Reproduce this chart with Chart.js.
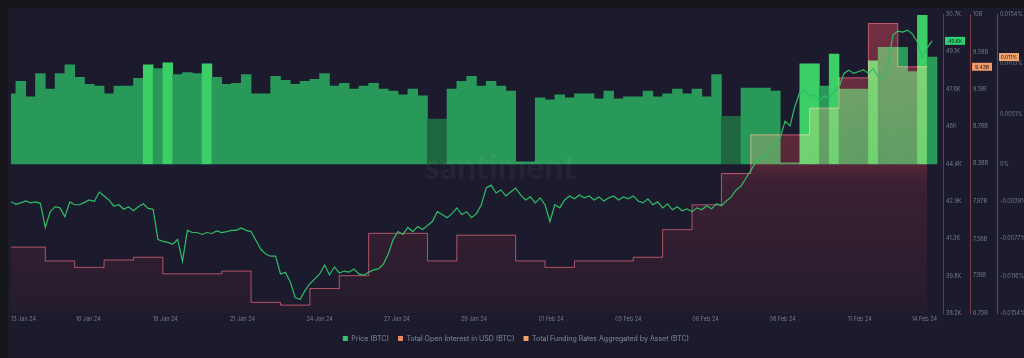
<!DOCTYPE html>
<html>
<head>
<meta charset="utf-8">
<script src="https://cdn.jsdelivr.net/npm/chart.js@4.4.1/dist/chart.umd.min.js"></script>
<style>
  html, body { margin: 0; padding: 0; background: #141419; overflow: hidden; }
  #wrap { position: absolute; left: 8px; top: 8px; width: 1016px; height: 350px; background: #1b1b2d; }
</style>
</head>
<body>
<div id="wrap"><canvas id="grafico"></canvas></div>
<script>
// horas desde el inicio del gráfico (12 Jan 20:00)
const tickHours = [0, 63, 126, 189, 252, 315, 378, 441, 504, 567, 630, 693, 756];
const tickLabels = ['13 Jan 24', '16 Jan 24', '19 Jan 24', '21 Jan 24', '24 Jan 24', '27 Jan 24', '29 Jan 24',
  '01 Feb 24', '03 Feb 24', '06 Feb 24', '08 Feb 24', '11 Feb 24', '14 Feb 24'];

// precio BTC en miles de USD, cada 4 horas
const priceValues = [
  42.87, 42.76, 42.82, 42.90, 42.82, 42.86, 42.80, 41.79, 42.45, 42.66, 42.61, 42.24,
  42.86, 42.74, 42.74, 42.84, 42.94, 42.88, 43.27, 43.11, 42.94, 42.68, 42.74, 42.55,
  42.66, 42.49, 42.66, 42.78, 42.59, 42.55, 41.29, 41.21, 41.17, 41.09, 41.29, 40.39,
  41.67, 41.58, 41.58, 41.50, 41.58, 41.54, 41.65, 41.58, 41.62, 41.67, 41.67, 41.77,
  41.67, 41.62, 41.25, 40.88, 40.68, 40.59, 40.59, 39.85, 39.91, 39.52, 38.86, 38.78,
  39.15, 39.44, 39.64, 39.85, 40.22, 39.81, 40.14, 39.89, 39.97, 39.93, 40.06, 39.85,
  39.79, 39.92, 40.02, 40.06,
  40.26, 40.68, 41.29, 41.62, 41.50, 41.79, 41.62, 41.83, 41.71, 41.87, 42.04, 42.45,
  42.33, 42.20, 42.37, 42.61, 42.33, 42.45, 42.20, 42.37, 42.74, 43.44, 43.56, 43.23,
  43.36, 43.11, 43.27, 43.44, 43.15, 42.94, 43.07, 42.82, 43.03, 42.74, 42.04, 42.74,
  42.61, 42.94, 43.11, 42.99, 43.15, 43.03, 43.11, 42.94, 43.07, 42.90, 43.03, 43.11,
  42.94, 43.07, 42.99, 43.11, 42.90, 42.82, 42.99, 42.74, 42.86, 42.61, 42.78, 42.53,
  42.66, 42.49, 42.57, 42.45, 42.61, 42.53, 42.70, 42.57, 42.78, 42.70, 42.90, 43.07,
  43.36, 43.52, 43.85, 44.18, 44.51, 44.68, 44.76, 45.09, 45.30, 45.54, 46.24, 46.04,
  46.86, 47.44, 47.52, 47.28, 47.32, 47.11, 47.28, 47.19, 47.48, 47.65, 48.23, 48.36,
  48.23, 48.31, 48.39, 48.23, 48.43, 48.10, 47.98, 48.64, 49.83, 50.00, 49.96, 50.04,
  49.87, 49.54, 48.88, 49.30, 49.59
];

// open interest en miles de millones USD, un valor por día
const openInterestValues = [
  7.47, 7.47, 7.32, 7.25, 7.33, 7.36, 7.18, 7.18, 7.21, 6.87, 6.84, 7.02, 7.16,
  7.62, 7.62, 7.32, 7.60, 7.60, 7.32, 7.25, 7.32, 7.32, 7.36, 7.66, 7.93, 8.27,
  8.69, 8.69, 8.98, 9.31, 9.90, 9.43, 9.43
];

// funding rate en %, cada 8 horas
const fundingValues = [
  0.0072, 0.0085, 0.0069, 0.0093, 0.0077, 0.0093, 0.0102, 0.0089, 0.0082, 0.0080,
  0.0072, 0.0080, 0.0080, 0.0088, 0.0102, 0.0098, 0.0104, 0.0092, 0.0094, 0.0093,
  0.0103, 0.0089, 0.0082, 0.0083, 0.0092, 0.0072, 0.0072, 0.0090, 0.0086, 0.0082,
  0.0085, 0.0087, 0.0093, 0.0080, 0.0083, 0.0077, 0.0080, 0.0083, 0.0077, 0.0075,
  0.0071, 0.0077, 0.0070, 0.0046, 0.0046, 0.0077, 0.0085, 0.0090, 0.0080, 0.0085,
  0.0080, 0.0075, 0.0002, 0.0002, 0.0068, 0.0066, 0.0071, 0.0068, 0.0072, 0.0072,
  0.0067, 0.0075, 0.0067, 0.0069, 0.0069, 0.0075, 0.0069, 0.0072, 0.0077, 0.0072,
  0.0077, 0.0069, 0.0092, 0.0049, 0.0049, 0.0078, 0.0078, 0.0078, 0.0075, 0.0001,
  0.0001, 0.0103, 0.0103, 0.0080, 0.0113, 0.0077, 0.0077, 0.0077, 0.0106, 0.0120,
  0.0120, 0.0120, 0.0095, 0.0153, 0.0110
];

const priceTicks = [38.2, 39.76, 41.33, 42.89, 44.45, 46.01, 47.58, 49.14, 50.7];
const priceTickLabels = ['38.2K', '39.8K', '41.3K', '42.9K', '44.4K', '46K', '47.6K', '49.1K', '50.7K'];
const oiTicks = [6.75, 7.16, 7.56, 7.97, 8.38, 8.78, 9.19, 9.59, 10];
const oiTickLabels = ['6.75B', '7.16B', '7.56B', '7.97B', '8.38B', '8.78B', '9.19B', '9.59B', '10B'];
const frTicks = [-0.0154, -0.0116, -0.0077, -0.0039, 0, 0.0051, 0.0103, 0.0154];
const frTickLabels = ['-0.0154%', '-0.0116%', '-0.0077%', '-0.0039%', '0%', '0.0051%', '0.0103%', '0.0154%'];

const seriesNames = ['Price (BTC)', 'Total Open Interest in USD (BTC)', 'Total Funding Rates Aggregated by Asset (BTC)'];

// estilos
const legendColors = ['#35c46f', '#e8875f', '#f0a468'];
const brightBars = [14, 16, 20, 81, 82, 84, 88, 93];
const dimBars = [43, 44, 73, 74];

Chart.defaults.font.family = 'Inter, Roboto, sans-serif';
Chart.defaults.color = '#7b7f92';

function colorBarra(ctx) {
  if (brightBars.includes(ctx.dataIndex)) return '#3ccf68';
  if (dimBars.includes(ctx.dataIndex)) return '#1f6640';
  return '#29995a';
}

function rellenoOI(ctx) {
  const area = ctx.chart.chartArea;
  if (!area) return 'transparent';
  const g = ctx.chart.ctx.createLinearGradient(0, area.top, 0, area.bottom);
  g.addColorStop(0, 'rgb(100,24,28)');
  g.addColorStop(0.5, 'rgb(66,13,15)');
  g.addColorStop(0.56, 'rgb(36,6,6)');
  g.addColorStop(1, 'rgb(10,1,0)');
  return g;
}

function fijarTicks(valores) {
  return scale => { scale.ticks = valores.map(v => ({ value: v })); };
}

const capas = {
  id: 'capas',
  beforeDraw(chart) {
    // fondo pintado en el canvas para que el modo "screen" tenga algo debajo
    const ctx = chart.ctx;
    ctx.save();
    ctx.fillStyle = '#1b1b2d';
    ctx.fillRect(0, 0, chart.width, chart.height);
    ctx.restore();
  },
  afterDatasetDraw(chart, args) {
    // el relleno del open interest se mezcla en modo "screen" sobre las barras
    if (args.index === 2) chart.ctx.globalCompositeOperation = 'screen';
    if (args.index === 1) chart.ctx.globalCompositeOperation = 'source-over';
  },
  afterDatasetsDraw(chart) {
    const { ctx, chartArea } = chart;
    ctx.save();
    ctx.font = 'bold 34px Lato';
    ctx.fillStyle = 'rgba(255,255,255,0.045)';
    ctx.textAlign = 'center';
    ctx.textBaseline = 'middle';
    ctx.fillText('santiment', chartArea.left + chartArea.width * 0.525, chart.scales.yFR.getPixelForValue(-0.0004));
    ctx.restore();
  },
  afterDraw(chart) {
    const ctx = chart.ctx;
    const ultimos = [
      { id: 'yPrecio', v: priceValues[priceValues.length - 1], txt: priceValues[priceValues.length - 1].toFixed(1) + 'K', c: '#2fd070' },
      { id: 'yOI', v: openInterestValues[openInterestValues.length - 1], txt: openInterestValues[openInterestValues.length - 1].toFixed(2) + 'B', c: '#f09a68' },
      { id: 'yFR', v: fundingValues[fundingValues.length - 1], txt: fundingValues[fundingValues.length - 1].toFixed(3) + '%', c: '#f0a468' }
    ];
    ctx.save();
    ultimos.forEach(u => {
      const s = chart.scales[u.id];
      const y = s.getPixelForValue(u.v);
      ctx.fillStyle = u.c;
      ctx.fillRect(s.left + 2, y - 4, 20, 8);
      ctx.fillStyle = '#1a1c24';
      ctx.font = '5px Inter';
      ctx.textAlign = 'center';
      ctx.textBaseline = 'middle';
      ctx.fillText(u.txt, s.left + 12, y + 0.5);
    });
    ctx.restore();
  }
};

const ejeDerecho = (ticks, labels, borde) => ({
  type: 'linear',
  position: 'right',
  min: ticks[0],
  max: ticks[ticks.length - 1],
  afterBuildTicks: fijarTicks(ticks),
  afterFit: scale => { scale.width = 27; },
  grid: { display: false, drawTicks: false },
  border: { display: true, color: borde, width: 1 },
  ticks: {
    autoSkip: false,
    padding: 3,
    color: '#767a8d',
    font: { size: 5.5 },
    callback: (v, i) => labels[i]
  }
});

new Chart(document.getElementById('grafico'), {
  data: {
    datasets: [
      {
        type: 'line',
        label: seriesNames[0],
        data: priceValues.map((v, i) => ({ x: i * 4, y: v })),
        yAxisID: 'yPrecio',
        borderColor: '#2ebd66',
        borderWidth: 1.2,
        pointRadius: 0,
        tension: 0,
        order: 0
      },
      {
        type: 'line',
        label: seriesNames[1],
        data: openInterestValues.map((v, i) => ({ x: -20 + i * 24, y: v })),
        yAxisID: 'yOI',
        stepped: true,
        fill: 'start',
        backgroundColor: rellenoOI,
        borderColor: 'rgb(165,58,66)',
        borderWidth: 1,
        pointRadius: 0,
        order: 1
      },
      {
        type: 'bar',
        label: seriesNames[2],
        data: fundingValues.map((v, i) => ({ x: i * 8, y: v })),
        yAxisID: 'yFR',
        backgroundColor: colorBarra,
        borderWidth: 0,
        barPercentage: 1,
        categoryPercentage: 1,
        grouped: false,
        order: 2
      }
    ]
  },
  options: {
    responsive: true,
    maintainAspectRatio: false,
    animation: false,
    devicePixelRatio: 1,
    layout: { padding: { left: 0, right: 0, top: 2, bottom: 6 } },
    scales: {
      x: {
        type: 'linear',
        offset: false,
        min: 0,
        max: 760.9,
        afterBuildTicks: fijarTicks(tickHours),
        grid: { display: false, drawTicks: false, offset: false },
        border: { display: false },
        ticks: {
          autoSkip: false,
          maxRotation: 0,
          align: 'inner',
          padding: 3,
          color: '#767a8d',
          font: { size: 5.5 },
          callback: (v, i) => tickLabels[i]
        }
      },
      yPrecio: ejeDerecho(priceTicks, priceTickLabels, '#245e4e'),
      yOI: ejeDerecho(oiTicks, oiTickLabels, '#7e3a45'),
      yFR: ejeDerecho(frTicks, frTickLabels, '#7e4049')
    },
    plugins: {
      tooltip: { enabled: false },
      legend: {
        position: 'bottom',
        labels: {
          boxWidth: 5,
          boxHeight: 5,
          padding: 9,
          color: '#868a9c',
          font: { size: 7 },
          sort: (a, b) => a.datasetIndex - b.datasetIndex,
          generateLabels: chart => Chart.defaults.plugins.legend.labels.generateLabels(chart).map(item => ({
            ...item,
            fillStyle: legendColors[item.datasetIndex],
            strokeStyle: legendColors[item.datasetIndex],
            lineWidth: 0
          }))
        }
      }
    }
  },
  plugins: [capas]
});
</script>
</body>
</html>
